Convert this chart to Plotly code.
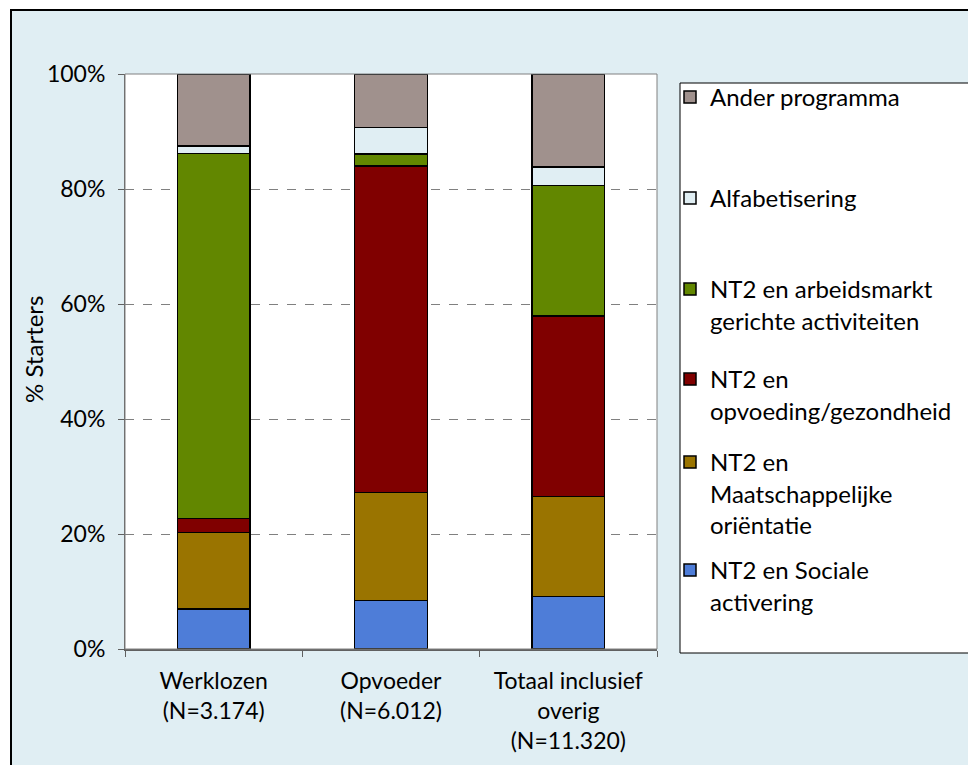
import plotly.graph_objects as go

#
# data (% of starters per group)
#
groups = ['Werklozen<br>(N=3.174)', 'Opvoeder<br>(N=6.012)', 'Totaal inclusief<br>overig<br>(N=11.320)']
yticks = [0, 20, 40, 60, 80, 100]
ylabels = ['0%', '20%', '40%', '60%', '80%', '100%']

sociale = [7.0, 8.4, 9.1]
maatschappelijk = [13.3, 18.8, 17.4]
opvoeding = [2.4, 56.8, 31.4]
arbeidsmarkt = [63.5, 2.1, 22.7]
alfabetisering = [1.3, 4.6, 3.2]
ander = [12.5, 9.3, 16.2]

names = ['NT2 en Sociale<br>activering',
         'NT2 en<br>Maatschappelijke<br>oriëntatie',
         'NT2 en<br>opvoeding/gezondheid',
         'NT2 en arbeidsmarkt<br>gerichte activiteiten',
         'Alfabetisering',
         'Ander programma']
series = [sociale, maatschappelijk, opvoeding, arbeidsmarkt, alfabetisering, ander]
colors = ['#4E7DD8', '#9A7400', '#800000', '#628700', '#E0EEF3', '#A0918D']

#
# layout helpers: targets are in page pixels, the page body adds an 8px margin
#
OFF = 8
W, H = 976 - OFF, 765 - OFF
L, R, T, B = 125, 657, 74, 649   # plot area on the page
def px(x):
    return (x - L) / (R - L)
def py(y):
    return (B - y) / (B - T)

FONT = 'Lato'
FS = 23
LFS = 24

fig = go.Figure()
legend_tops = [548, 440, 357, 267, 176, 75]
for i in range(len(series)):
    lg = 'legend' if i == 0 else f'legend{i+1}'
    fig.add_trace(go.Bar(x=groups, y=series[i], name=names[i],
                         marker=dict(color=colors[i], line=dict(color='black', width=1.5)),
                         width=0.41, legend=lg))

legends = {}
for i in range(len(series)):
    key = 'legend' if i == 0 else f'legend{i+1}'
    legends[key] = dict(x=px(670), y=py(legend_tops[i]), xanchor='left', yanchor='top',
                        bgcolor='rgba(0,0,0,0)', borderwidth=0, valign='top',
                        font=dict(family=FONT, size=LFS, color='black'))

shapes = [
    # white strips outside the chart frame
    dict(type='rect', xref='paper', yref='paper', x0=px(-10), x1=px(11), y0=py(800), y1=py(-10),
         fillcolor='white', line=dict(width=0), layer='below'),
    dict(type='rect', xref='paper', yref='paper', x0=px(-10), x1=px(1000), y0=py(10), y1=py(-10),
         fillcolor='white', line=dict(width=0), layer='below'),
    # chart frame
    dict(type='rect', xref='paper', yref='paper', x0=px(11), x1=px(990), y0=py(780), y1=py(10),
         line=dict(color='black', width=2)),
    # plot area border
    dict(type='rect', xref='paper', yref='paper', x0=0, x1=1, y0=0, y1=1,
         line=dict(color='#808080', width=1)),
    # legend box
    dict(type='rect', xref='paper', yref='paper', x0=px(680), x1=px(975), y0=py(653), y1=py(83),
         fillcolor='white', line=dict(color='black', width=1), layer='below'),
]

# y axis title as a rotated annotation so it sits where the original has it
ytitle = dict(text='% Starters', textangle=-90, xref='paper', yref='paper',
              x=px(33), y=py(350), xanchor='center', yanchor='middle', showarrow=False,
              font=dict(family=FONT, size=24, color='black'))

fig.update_layout(
    width=W, height=H,
    margin=dict(l=L - OFF, r=976 - R, t=T - OFF, b=765 - B, autoexpand=False),
    barmode='stack',
    paper_bgcolor='#E0EEF3',
    plot_bgcolor='white',
    font=dict(family=FONT, size=FS, color='black'),
    showlegend=True,
    shapes=shapes,
    annotations=[ytitle],
    **legends,
)

fig.update_yaxes(range=[0, 100], tickmode='array', tickvals=yticks, ticktext=ylabels,
                 showgrid=True, gridcolor='#808080', griddash='dash', gridwidth=1,
                 showline=True, linecolor='#606060', linewidth=1,
                 ticks='outside', ticklen=6, tickcolor='#606060', ticklabelstandoff=8,
                 zeroline=False)
fig.update_xaxes(showline=True, linecolor='#606060', linewidth=1.5,
                 ticks='outside', ticklen=6, tickcolor='#606060', tickson='boundaries',
                 ticklabelstandoff=11, showgrid=False)

fig.write_html("out.html")
